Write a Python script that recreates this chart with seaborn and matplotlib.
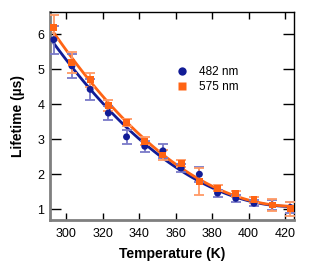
import numpy as np
import pandas as pd
import matplotlib
matplotlib.use("Agg")
import matplotlib.pyplot as plt
import seaborn as sns

# temperatures (K) and lifetimes (us)
temp = [293, 303, 313, 323, 333, 343, 353, 363, 373, 383, 393, 403, 413, 423]
life_482 = [5.85, 5.1, 4.43, 3.75, 3.07, 2.8, 2.67, 2.18, 2.0, 1.46, 1.31, 1.17, 1.12, 1.05]
err_482 = [0.4, 0.35, 0.3, 0.2, 0.2, 0.15, 0.2, 0.12, 0.22, 0.1, 0.1, 0.08, 0.15, 0.15]
life_575 = [6.2, 5.19, 4.71, 3.96, 3.47, 2.95, 2.55, 2.31, 1.8, 1.6, 1.44, 1.27, 1.12, 1.01]
err_575 = [0.35, 0.3, 0.2, 0.15, 0.1, 0.12, 0.15, 0.1, 0.38, 0.08, 0.08, 0.08, 0.18, 0.2]

blue = "#121c96"
orange = "#ff6414"

df = pd.DataFrame({"T": temp * 2,
                   "life": life_482 + life_575,
                   "err": err_482 + err_575,
                   "series": ["482 nm"] * len(temp) + ["575 nm"] * len(temp)})

sns.set_style("ticks", {"text.color": "black", "xtick.color": "black",
                        "ytick.color": "black", "axes.labelcolor": "black"})
plt.rcParams['font.family'] = ['Liberation Sans', 'DejaVu Sans']

fig, ax = plt.subplots(figsize=(3.21, 2.68), dpi=100)
fig.subplots_adjust(left=0.156, right=0.916, top=0.955, bottom=0.179)

# fitted curves through each series
sns.regplot(x=temp, y=life_482, order=2, ci=None, scatter=False, ax=ax,
            line_kws={"color": blue, "lw": 2})
sns.regplot(x=temp, y=life_575, order=2, ci=None, scatter=False, ax=ax,
            line_kws={"color": orange, "lw": 2})

# error bars (lighter)
ax.errorbar(temp, life_482, yerr=err_482, fmt='none', ecolor="#7a7ac8",
            elinewidth=1.3, capsize=3.5, capthick=1.3, zorder=3)
ax.errorbar(temp, life_575, yerr=err_575, fmt='none', ecolor="#ff9a66",
            elinewidth=1.3, capsize=3.5, capthick=1.3, zorder=3)

sns.scatterplot(data=df, x="T", y="life", hue="series", style="series",
                markers={"482 nm": "o", "575 nm": "s"},
                palette={"482 nm": blue, "575 nm": orange},
                s=25, edgecolor="none", ax=ax, zorder=4)

ax.set_xlim(291, 425)
ax.set_ylim(0.69, 6.64)
ax.set_xticks([300, 320, 340, 360, 380, 400, 420])
ax.set_yticks([1, 2, 3, 4, 5, 6])
ax.tick_params(direction='in', top=True, right=True, labelsize=9,
               width=1, color='black', labelcolor='black')
ax.tick_params(axis='x', length=5, pad=6)
ax.tick_params(axis='y', length=8, pad=4)

for s in ['left', 'bottom']:
    ax.spines[s].set_color('#7f7f7f')
    ax.spines[s].set_linewidth(2)
for s in ['top', 'right']:
    ax.spines[s].set_color('black')
    ax.spines[s].set_linewidth(1)

ax.set_xlabel("Temperature (K)", fontsize=10, fontweight='heavy', labelpad=5,
              color='black')
ax.set_ylabel("Lifetime (µs)", fontsize=10, fontweight='heavy', labelpad=9,
              color='black')

leg = ax.legend(loc='upper left', bbox_to_anchor=(0.47, 0.77), frameon=False,
                fontsize=8.5, handletextpad=0.4, borderpad=0, labelspacing=0.25,
                markerscale=1.2)
for t in leg.get_texts():
    t.set_color('black')

plt.savefig("out.png", dpi=100)
